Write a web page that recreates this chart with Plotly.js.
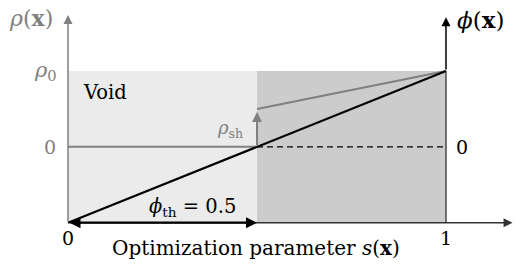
<!DOCTYPE html>
<html><head><meta charset="utf-8">
<script src="https://cdn.plot.ly/plotly-3.0.1.min.js"></script>
<style>html,body{margin:0;padding:0;background:#fff}#g{width:515px;height:264px}</style>
</head><body><div id="g"></div>
<script>
// Data (normalized: s in [0,1], phi in [-1,1])
const sLine = [0, 1];            // optimization parameter
const phiLine = [-1, 1];         // level-set value phi(s)
const voidS = [0, 0.5];          // void region
const solidS = [0.5, 1];         // solid region
const rhoVoidY = [0, 0];         // density in void
const rhoSolidY = [0.5, 1];      // density in solid: rho_sh -> rho_0
const dashedS = [0.5, 1];
const dashedY = [0, 0];
const phiTh = 0.5;
const rhoSh = 0.5;
const yBottom = -1, yTop = 1;
const rhoAxisTop = 1.74, phiAxisTop = 1.71, sAxisEnd = 1.176;
const sTickVals = [0, 1];
const sTickText = ['0', '1'];

const LIGHT = '#ebebeb', DARK = '#cccccc', GRAY = '#808080';
const font = 'DejaVu Serif';

function rect(xs, color) {
  return {x: [xs[0], xs[1], xs[1], xs[0], xs[0]], y: [yBottom, yBottom, yTop, yTop, yBottom],
    fill: 'toself', fillcolor: color, mode: 'lines', line: {width: 0}, hoverinfo: 'skip'};
}
const traces = [
  rect(voidS, LIGHT),
  rect(solidS, DARK),
  {x: dashedS, y: dashedY, mode: 'lines', line: {color: '#000', width: 1.2, dash: '6px,4px'}},
  {x: voidS, y: rhoVoidY, mode: 'lines', line: {color: GRAY, width: 2}},
  {x: solidS, y: rhoSolidY, mode: 'lines', line: {color: GRAY, width: 2}},
  {x: sLine, y: phiLine, mode: 'lines', line: {color: '#000', width: 2.2}},
  {x: [sTickVals[1], sTickVals[1]], y: [yBottom, yTop], mode: 'lines', line: {color: '#333', width: 1.3}}
];

function arrow(x, y, ax, ay, color, w, size, extra) {
  return Object.assign({x, y, ax, ay, xref: 'x', yref: 'y', axref: 'x', ayref: 'y', text: '',
    showarrow: true, arrowhead: 2, arrowsize: size, arrowwidth: w, arrowcolor: color}, extra || {});
}
function label(x, y, text, size, color, extra) {
  return Object.assign({x, y, xref: 'x', yref: 'y', text, showarrow: false,
    font: {family: font, size, color}}, extra || {});
}
const annotations = [
  arrow(0, rhoAxisTop, 0, yBottom, GRAY, 1.5, 1.2),
  arrow(1, phiAxisTop, 1, yTop, '#000', 1.5, 1.2),
  arrow(sAxisEnd, yBottom, 0, yBottom, '#333', 1.5, 1.2),
  arrow(phiTh, rhoSh - 0.04, phiTh, 0, GRAY, 2, 1),
  arrow(phiTh, yBottom, 0, yBottom, '#000', 2.2, 1, {arrowside: 'end+start'}),
  label(-0.097, 1.70, '<i>ρ</i>(<b>x</b>)', 22, GRAY),
  label(1.09, 1.68, '<i>ϕ</i>(<b>x</b>)', 23, '#000'),
  label(-0.06, 1.0, '<i>ρ</i><sub>0</sub>', 21, GRAY),
  label(-0.048, 0, '0', 19, GRAY),
  label(1.042, 0, '0', 19, '#000'),
  label(sTickVals[0], -1.20, sTickText[0], 19, '#000'),
  label(sTickVals[1], -1.20, sTickText[1], 19, '#000'),
  label(0.496, -1.33, 'Optimization parameter <i>s</i>(<b>x</b>)', 20, '#000'),
  label(0.329, -0.80, '<i>ϕ</i><sub>th</sub> = 0.5', 19.5, '#000'),
  label(0.428, 0.24, '<i>ρ</i><sub>sh</sub>', 18, GRAY),
  label(0.099, 0.72, 'Void', 19.5, '#000')
];

const layout = {
  width: 515, height: 264, margin: {l: 0, r: 0, t: 0, b: 0},
  font: {family: font},
  paper_bgcolor: '#fff', plot_bgcolor: '#fff', showlegend: false,
  xaxis: {range: [-0.1799, 1.1825], visible: false, fixedrange: true},
  yaxis: {range: [-1.545, 1.937], visible: false, fixedrange: true},
  annotations
};
Plotly.newPlot('g', traces, layout, {staticPlot: true, displayModeBar: false});
</script></body></html>
